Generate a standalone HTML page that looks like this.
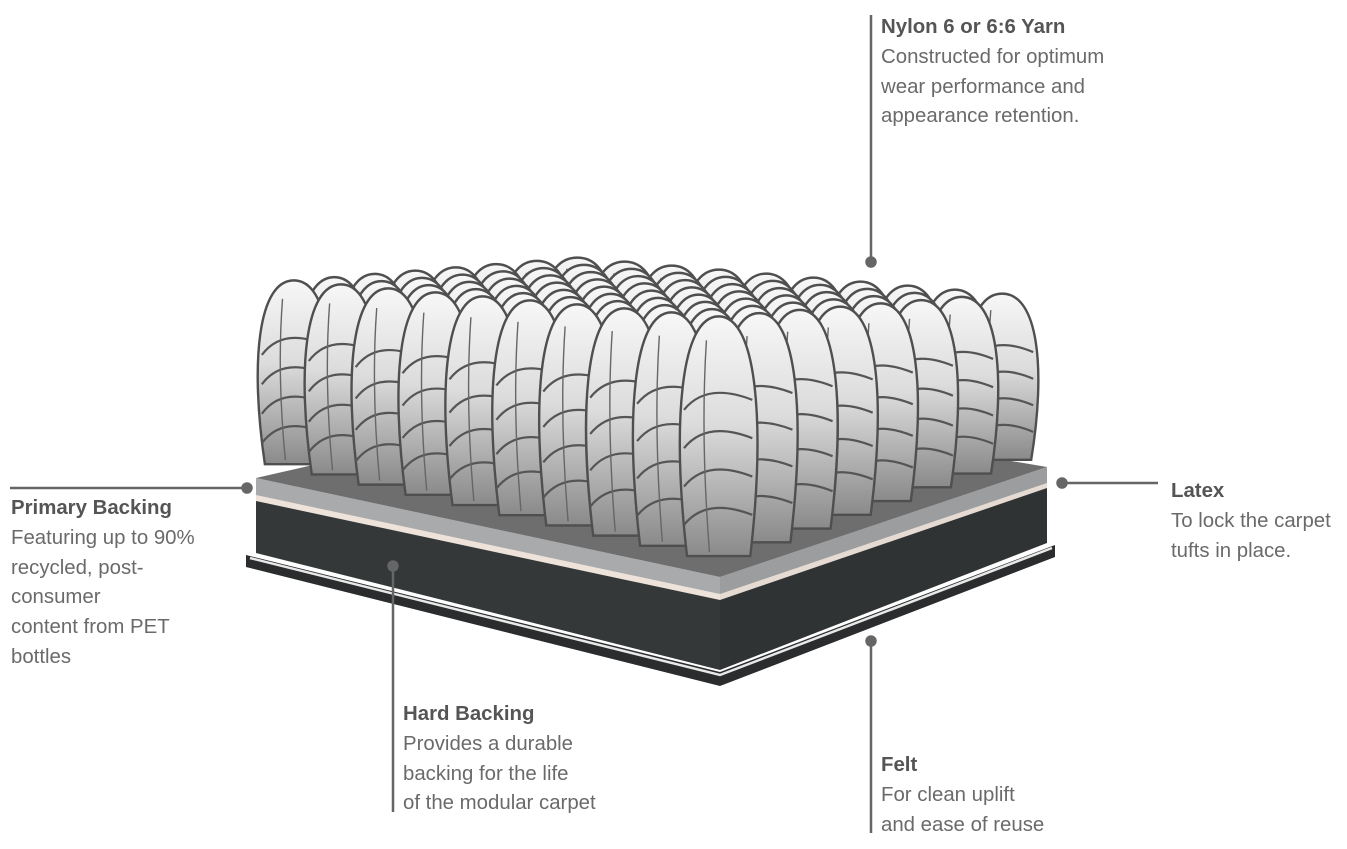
<!DOCTYPE html>
<html><head><meta charset="utf-8"><style>
html,body{margin:0;padding:0;background:#fff;}
body{width:1347px;height:849px;position:relative;overflow:hidden;font-family:"Liberation Sans",sans-serif;}
.t{position:absolute;font-size:20.4px;color:#6a6a6a;line-height:29.8px;white-space:nowrap;}
.t b{color:#555;font-weight:bold;}
svg{position:absolute;left:0;top:0;}
</style></head><body>
<svg id="s" width="1347" height="849" viewBox="0 0 1347 849">
<defs>
<linearGradient id="tg" x1="0" y1="0" x2="0" y2="1">
<stop offset="0" stop-color="#f7f7f7"/><stop offset="0.45" stop-color="#dcdcdc"/><stop offset="1" stop-color="#8a8a8a"/>
</linearGradient>
</defs>
<polygon points="246,555 720,672 1055,545 1055,557 720,686 246,567" fill="#2a2c2d"/>
<polyline points="250,558 720,675 1052,548" fill="none" stroke="#e8e8e8" stroke-width="2.5"/>
<polygon points="256,497 720,598 720,670 256,553" fill="#353839"/>
<polygon points="720,598 1047,485 1047,543 720,670" fill="#303334"/>
<polygon points="256,494 720,592 720,600 256,501" fill="#eee3da"/>
<polygon points="720,592 1047,481 1047,488 720,600" fill="#e6dbd2"/>
<polygon points="256,478 720,577 720,594 256,495" fill="#a9aaab"/>
<polygon points="720,577 1047,467 1047,483 720,594" fill="#9c9d9e"/>
<polygon points="256,478 620,395 1047,467 720,577" fill="#6e6e6e"/>
<g id="tufts"></g>
<g stroke="#666" stroke-width="2.5" fill="#666">
<line x1="871" y1="15" x2="871" y2="262"/><circle cx="871" cy="262" r="4.5"/>
<line x1="10" y1="488" x2="247" y2="488"/><circle cx="247" cy="488" r="4.5"/>
<line x1="1062" y1="483" x2="1158" y2="483"/><circle cx="1062" cy="483" r="4.5"/>
<line x1="393" y1="566" x2="393" y2="812"/><circle cx="393" cy="566" r="4.5"/>
<line x1="871" y1="641" x2="871" y2="833"/><circle cx="871" cy="641" r="4.5"/>
</g>
</svg>
<div class="t" style="left:881px;top:13px"><b>Nylon 6 or 6:6 Yarn</b><br>Constructed for optimum<br>wear performance and<br>appearance retention.</div>
<div class="t" style="left:11px;top:494px"><b>Primary Backing</b><br>Featuring up to 90%<br>recycled, post-<br>consumer<br>content from PET<br>bottles</div>
<div class="t" style="left:1171px;top:477px"><b>Latex</b><br>To lock the carpet<br>tufts in place.</div>
<div class="t" style="left:403px;top:700px"><b>Hard Backing</b><br>Provides a durable<br>backing for the life<br>of the modular carpet</div>
<div class="t" style="left:881px;top:751px"><b>Felt</b><br>For clean uplift<br>and ease of reuse</div>
<script>
(function(){
var g=document.getElementById('tufts'),ns='http://www.w3.org/2000/svg';
var F=[722,568],L=[250,466],R=[1046,458];
var NU=10,NV=8,list=[];
for(var i=0;i<NU;i++)for(var j=0;j<NV;j++){
 var u=(i+0.5)/NU,v=(j+0.5)/NV;
 var x=F[0]+(L[0]-F[0])*u+(R[0]-F[0])*v;
 var y=F[1]+(L[1]-F[1])*u+(R[1]-F[1])*v;
 var top=320-40*u-26*v;
 list.push([u+v,x,y,top]);
}
list.sort(function(a,b){return b[0]-a[0];});
list.forEach(function(t){
 var x=t[1],y=t[2],d=t[0],top=t[3];
 var h=y-top,w=74-d*6;
 var p='M'+(x-w/2+5)+','+y+' C'+(x-w/2-10)+','+(y-h*0.55)+' '+(x-w/2-2)+','+top+' '+x+','+top+
  ' C'+(x+w/2+2)+','+top+' '+(x+w/2+10)+','+(y-h*0.55)+' '+(x+w/2-5)+','+y+' Z';
 var e=document.createElementNS(ns,'path');
 e.setAttribute('d',p);e.setAttribute('fill','url(#tg)');
 e.setAttribute('stroke','#4f4f4f');e.setAttribute('stroke-width','2.4');
 g.appendChild(e);
 for(var k=1;k<5;k++){
  var yy=y-h*(0.16*k+0.02);
  var a=document.createElementNS(ns,'path');
  a.setAttribute('d','M'+(x-w/2+2)+','+(yy+12)+' Q'+(x-w/6)+','+(yy-16)+' '+(x+w/2-3)+','+(yy+2));
  a.setAttribute('fill','none');a.setAttribute('stroke','#555');a.setAttribute('stroke-width','2.2');
  g.appendChild(a);
 }
 var c=document.createElementNS(ns,'path');
 c.setAttribute('d','M'+(x-w/6)+','+(top+h*0.1)+' Q'+(x-w/4)+','+(y-h*0.5)+' '+(x-w/8)+','+(y-4));
 c.setAttribute('fill','none');c.setAttribute('stroke','#666');c.setAttribute('stroke-width','1.4');
 g.appendChild(c);
});
})();
</script>
</body></html>
